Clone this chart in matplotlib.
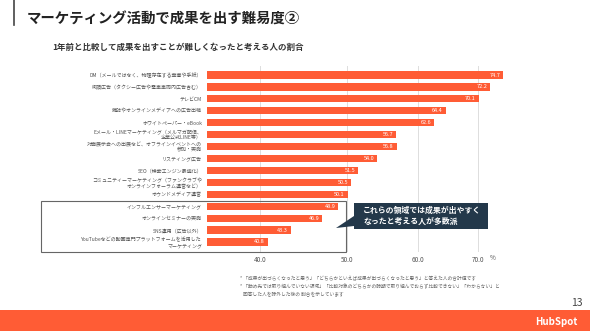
import matplotlib
matplotlib.use("Agg")
import matplotlib.pyplot as plt
import matplotlib.ticker as ticker
from matplotlib.patches import Rectangle, Polygon
from matplotlib.lines import Line2D

plt.rcParams["font.family"] = ["Noto Sans CJK JP", "DejaVu Sans"]

# Daten
kategorien = [
    "DM（メールではなく、物理存在する葉書や手紙）",
    "街頭広告（タクシー広告や電車車両内広告含む）",
    "テレビCM",
    "雑誌やオンラインメディアへの広告出稿",
    "ホワイトペーパー・eBook",
    "Eメール・LINEマーケティング（メルマガ配信、\n企業公式LINE等）",
    "対面展示会への出展など、オフラインイベントへの\n参加・実施",
    "リスティング広告",
    "SEO（検索エンジン最適化）",
    "コミュニティーマーケティング（ファンクラブや\nオンラインフォーラム運営など）",
    "オウンドメディア運営",
    "インフルエンサーマーケティング",
    "オンラインセミナーの実施",
    "SNS運用（広告以外）",
    "YouTubeなどの動画専門プラットフォームを活用した\nマーケティング",
]
werte = [74.7, 72.2, 70.1, 64.4, 62.6, 56.7, 56.8, 54.0, 51.5, 50.5, 50.1, 48.9, 46.9, 43.3, 40.8]
x_ticks = [40, 50, 60, 70]
x_tick_labels = ["40.0", "50.0", "60.0", "70.0"]

titel = "マーケティング活動で成果を出す難易度②"
untertitel = "1年前と比較して成果を出すことが難しくなったと考える人の割合"
hinweis = "これらの領域では成果が出やすく\nなったと考える人が多数派"
fussnoten = [
    "* 「成果が出づらくなったと思う」「どちらかといえば成果が出づらくなったと思う」と答えた人の合計値です",
    "* 「勤め先では取り組んでいない領域」「比較対象のどちらかの時期で取り組んでおらず比較できない」「わからない」と",
    "   回答した人を除外した後の 割合を示しています",
]

ORANGE = "#ff5c35"
NAVY = "#23384a"
W, H = 590, 331


def px(x, y):
    return (x / W, 1 - y / H)


fig = plt.figure(figsize=(W / 100, H / 100), dpi=100)
fig.patch.set_facecolor("white")

# Diagramm
ax = fig.add_axes([207 / W, 1 - 251.5 / H, 303 / W, 186 / H])
y_pos = list(range(len(werte)))
ax.barh(y_pos, werte, height=0.6, color=ORANGE, zorder=3)
ax.set_xscale("log")
ax.set_xlim(34.9, 76)
ax.set_ylim(14.8, -0.8)
ax.xaxis.set_major_locator(ticker.FixedLocator(x_ticks))
ax.xaxis.set_major_formatter(ticker.FixedFormatter(x_tick_labels))
ax.xaxis.set_minor_locator(ticker.NullLocator())
ax.set_yticks(y_pos)
ax.set_yticklabels(kategorien, fontsize=3.6, color="#555555", linespacing=1.15)
ax.tick_params(axis="y", length=0, pad=3.6)
ax.tick_params(axis="x", length=0, pad=3.5, labelsize=4.6, colors="#555555")
for s in ax.spines.values():
    s.set_visible(False)
ax.grid(axis="x", color="#dddddd", linewidth=0.7, zorder=0)

for i, v in enumerate(werte):
    ax.annotate(f"{v:.1f}", xy=(v, i), xytext=(-2, 0), textcoords="offset points",
                ha="right", va="center", fontsize=4, color="white", zorder=4)

fig.text(493 / W, 1 - 258 / H, "%", fontsize=4.6, color="#555555", ha="center", va="center")

# Titel
fig.add_artist(Line2D([14 / W, 14 / W], [1, 1 - 25 / H], color="#444444", linewidth=1.2))
fig.text(27 / W, 1 - 20 / H, titel, fontsize=10.4, fontweight="bold", color="#222222",
         ha="left", va="center")
fig.text(52 / W, 1 - 47 / H, untertitel, fontsize=6.1, fontweight="bold", color="#333333",
         ha="left", va="center")

# Rahmen um die letzten vier Kategorien
x0, y0 = px(41, 252)
fig.add_artist(Rectangle((x0, y0), (346 - 41) / W, (252 - 201) / H, fill=False,
                         edgecolor="#666666", linewidth=0.8))

# Sprechblase
blase = [(354, 203), (488, 203), (488, 229), (354, 229), (354, 226), (336, 228), (354, 216)]
fig.add_artist(Polygon([px(x, y) for x, y in blase], closed=True, facecolor=NAVY,
                       edgecolor="none"))
fig.text(363 / W, 1 - 216 / H, hinweis, fontsize=5.7, fontweight="bold", color="white",
         ha="left", va="center", linespacing=1.3)

# Fußnoten
for k, zeile in enumerate(fussnoten):
    fig.text(240 / W, 1 - (279 + 8 * k) / H, zeile, fontsize=3.4, color="#666666",
             ha="left", va="center")

# Seitenzahl und Fußleiste
fig.text(583 / W, 1 - 303 / H, "13", fontsize=7.5, color="#444444", ha="right", va="center")
fx, fy = px(0, 331)
fig.add_artist(Rectangle((fx, fy), 1, 21 / H, facecolor=ORANGE, edgecolor="none"))
fig.text(556 / W, 1 - 322 / H, "HubSpot", fontsize=7, fontweight="bold", color="white",
         ha="center", va="center")

plt.savefig("out.png", dpi=100)
